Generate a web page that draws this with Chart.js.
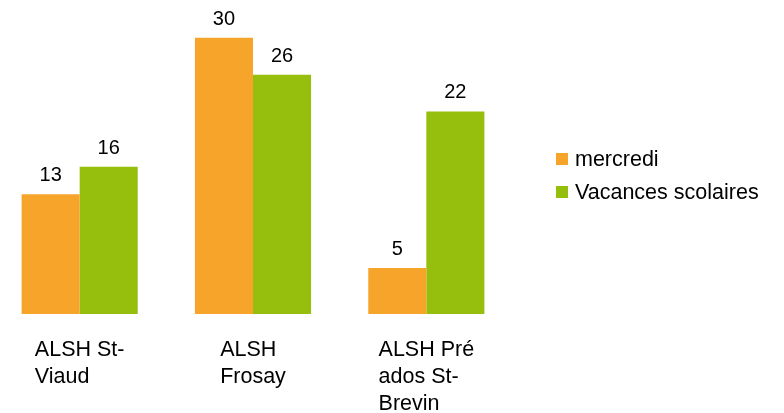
<!DOCTYPE html>
<html>
<head>
<meta charset="utf-8">
<script src="https://cdn.jsdelivr.net/npm/chart.js@4/dist/chart.umd.min.js"></script>
<style>
  html, body { margin: 0; padding: 0; background: #fff; }
  #wrap { position: relative; width: 784px; height: 413px; overflow: hidden; }
  #chart { position: absolute; left: -8px; top: 0; }
</style>
</head>
<body>
<div id="wrap"><canvas id="chart" width="800" height="413"></canvas></div>
<script>
const categories = [["ALSH St-", "Viaud"], ["ALSH", "Frosay"], ["ALSH Pré", "ados St-", "Brevin"]];
const seriesNames = ["mercredi", "Vacances scolaires"];
const mercredi = [13, 30, 5];
const vacances = [16, 26, 22];
const seriesColors = ["#F6A52A", "#96BF0D"];

const SHIFT = 8; // canvas is moved 8px left of the page
const VALUE_FONT = "20px 'Liberation Sans', Arial, sans-serif";
const TEXT_FONT = "21.5px 'Liberation Sans', Arial, sans-serif";

// value labels above each bar
const valueLabels = {
    id: "valueLabels",
    afterDatasetsDraw(chart) {
        const ctx = chart.ctx;
        ctx.save();
        ctx.font = VALUE_FONT;
        ctx.fillStyle = "#000";
        ctx.textAlign = "center";
        ctx.textBaseline = "alphabetic";
        chart.data.datasets.forEach((ds, i) => {
            chart.getDatasetMeta(i).data.forEach((bar, j) => {
                ctx.fillText(String(ds.data[j]), bar.x, bar.y - 13);
            });
        });
        ctx.restore();
    }
};

// category labels: block centred on the category, lines left-aligned
const categoryLabels = {
    id: "categoryLabels",
    afterDraw(chart) {
        const ctx = chart.ctx;
        const xScale = chart.scales.x;
        ctx.save();
        ctx.font = TEXT_FONT;
        ctx.fillStyle = "#000";
        ctx.textAlign = "left";
        ctx.textBaseline = "alphabetic";
        categories.forEach((lines, i) => {
            const cx = xScale.getPixelForValue(i);
            const w = Math.max(...lines.map(l => ctx.measureText(l).width));
            lines.forEach((line, k) => {
                ctx.fillText(line, cx - w / 2, 356 + k * 27);
            });
        });
        ctx.restore();
    }
};

// legend on the right
const sideLegend = {
    id: "sideLegend",
    afterDraw(chart) {
        const ctx = chart.ctx;
        ctx.save();
        ctx.font = TEXT_FONT;
        ctx.textBaseline = "alphabetic";
        ctx.textAlign = "left";
        chart.data.datasets.forEach((ds, i) => {
            const y = 153 + i * 33;
            ctx.fillStyle = ds.backgroundColor;
            ctx.fillRect(556 + SHIFT, y, 12, 12);
            ctx.fillStyle = "#000";
            ctx.fillText(ds.label, 575 + SHIFT, y + 13);
        });
        ctx.restore();
    }
};

new Chart(document.getElementById("chart"), {
    type: "bar",
    data: {
        labels: categories.map(c => c.join(" ")),
        datasets: [
            { label: seriesNames[0], data: mercredi, backgroundColor: seriesColors[0] },
            { label: seriesNames[1], data: vacances, backgroundColor: seriesColors[1] }
        ]
    },
    options: {
        responsive: false,
        animation: false,
        layout: { padding: { left: 1, right: 279, top: 1, bottom: 99 } },
        datasets: {
            bar: { categoryPercentage: 0.67, barPercentage: 1, borderWidth: 0 }
        },
        scales: {
            x: { display: false },
            y: { display: false, min: 0, max: 34 }
        },
        plugins: {
            legend: { display: false },
            tooltip: { enabled: false }
        }
    },
    plugins: [valueLabels, categoryLabels, sideLegend]
});
</script>
</body>
</html>
